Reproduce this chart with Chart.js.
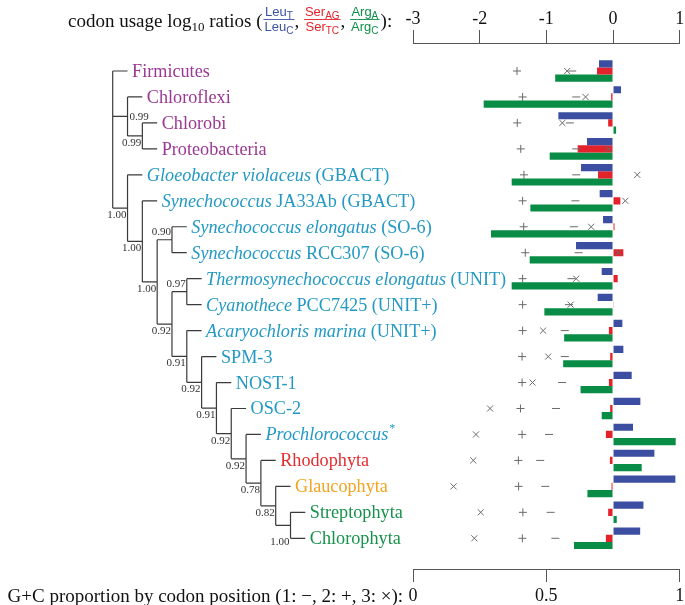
<!DOCTYPE html>
<html>
<head>
<meta charset="utf-8">
<title>codon usage and G+C</title>
<script src="https://cdn.jsdelivr.net/npm/chart.js@4.4.0/dist/chart.umd.min.js"></script>
<style>
html,body{margin:0;padding:0;background:#fff;}
#box{position:relative;width:685px;height:605px;}
</style>
</head>
<body>
<div id="box"><canvas id="chart"></canvas></div>
<script>
// tip labels: [text, style] style 0=roman 1=italic 2=superscript
var taxa=[
  [['Firmicutes',0]],
  [['Chloroflexi',0]],
  [['Chlorobi',0]],
  [['Proteobacteria',0]],
  [['Gloeobacter violaceus',1],[' (GBACT)',0]],
  [['Synechococcus',1],[' JA33Ab (GBACT)',0]],
  [['Synechococcus elongatus',1],[' (SO-6)',0]],
  [['Synechococcus',1],[' RCC307 (SO-6)',0]],
  [['Thermosynechococcus elongatus',1],[' (UNIT)',0]],
  [['Cyanothece',1],[' PCC7425 (UNIT+)',0]],
  [['Acaryochloris marina',1],[' (UNIT+)',0]],
  [['SPM-3',0]],
  [['NOST-1',0]],
  [['OSC-2',0]],
  [['Prochlorococcus',1],['*',2]],
  [['Rhodophyta',0]],
  [['Glaucophyta',0]],
  [['Streptophyta',0]],
  [['Chlorophyta',0]]
];
var taxaGroup=['P','P','P','P','C','C','C','C','C','C','C','C','C','C','C','R','G','V','V'];
var groupColor={P:'#9b3893',C:'#2399c4',R:'#e22d30',G:'#f2a420',V:'#17924b'};

// log10 codon usage ratios
var leuTC=[-0.21,0.12,-0.82,-0.39,-0.48,-0.20,-0.15,-0.555,-0.17,-0.23,0.14,0.155,0.28,0.41,0.30,0.62,0.935,0.456,0.407];
var serAGTC=[-0.24,-0.028,-0.073,-0.53,-0.225,0.11,0.022,0.155,0.07,0.005,-0.062,-0.043,-0.062,-0.043,-0.107,-0.047,-0.022,-0.073,-0.107];
var argAC=[-0.867,-1.94,0.046,-0.95,-1.52,-1.24,-1.83,-1.25,-1.52,-1.03,-0.733,-0.748,-0.487,-0.17,0.94,0.43,-0.384,0.056,-0.585];

// G+C proportion by codon position
var gc1=[0.597,0.612,0.588,0.612,0.612,0.609,0.603,0.621,0.594,0.585,0.569,0.569,0.559,0.536,0.510,0.477,0.496,0.516,0.534];
var gc2=[0.390,0.411,0.391,0.404,0.416,0.411,0.415,0.421,0.411,0.411,0.411,0.409,0.409,0.403,0.409,0.395,0.396,0.412,0.410];
var gc3=[0.578,0.647,0.560,0.733,0.841,0.796,0.668,0.770,0.612,0.591,0.488,0.507,0.448,0.289,0.236,0.226,0.152,0.254,0.230];

var logTicks=[-3,-2,-1,0,1];
var gcTicks=[0,0.5,1];

// tree: kids are tip indexes or node names
var nodeNames=['root','A','C','B','D','E','F','G','H','I','J','K','L','M','N','O','P'];
var nodeKids=[[0,'A','B'],[1,'C'],[2,3],[4,'D'],[5,'E'],['F','G'],[6,7],['H','I'],[8,9],[10,'J'],[11,'K'],[12,'L'],[13,'M'],[14,'N'],[15,'O'],[16,'P'],[17,18]];
var nodeSupport=['','0.99','0.99','1.00','1.00','1.00','0.90','0.92','0.97','0.91','0.92','0.91','0.92','0.92','0.78','0.82','1.00'];
var supportSpot=['','r','b','b','b','b','a','b','a','b','b','b','b','b','b','b','f'];

var SERIF='"Liberation Serif", "Times New Roman", serif';
var SANS='"Liberation Sans", Arial, sans-serif';

function layoutTree(){
  var node={},tipLevel=[],segs=[];
  nodeNames.forEach(function(n,i){node[n]={kids:nodeKids[i],sup:nodeSupport[i],spot:supportSpot[i]};});
  function walk(name,level){
    var nd=node[name],rows=[];
    nd.kids.forEach(function(k){
      if(typeof k==='number'){tipLevel[k]=level+1;rows.push(k);}
      else rows.push(walk(k,level+1));
    });
    nd.level=level;nd.rows=rows;
    nd.row=(rows[0]+rows[rows.length-1])/2;
    return nd.row;
  }
  walk('root',0);
  nodeNames.forEach(function(n){
    var nd=node[n];
    segs.push({x:nd.level,y:nd.rows[0]},{x:nd.level,y:nd.rows[nd.rows.length-1]},{x:null,y:null});
    nd.rows.forEach(function(r){segs.push({x:nd.level,y:r},{x:nd.level+1,y:r},{x:null,y:null});});
  });
  return {node:node,tipLevel:tipLevel,segs:segs};
}
var tree=layoutTree();

function rowsOf(vals){return vals.map(function(v,i){return {x:v,y:i};});}
function tickList(vals){return function(s){s.ticks=vals.map(function(v){return {value:v};});};}

function drawPieces(ctx,pieces,x,base,size){
  size=size||18.2;
  pieces.forEach(function(p){
    if(p[1]===2){
      ctx.font='12px '+SERIF;
      ctx.fillText(p[0],x+1,base-8);
      x+=ctx.measureText(p[0]).width+1;
    }else{
      ctx.font=(p[1]?'italic ':'')+size+'px '+SERIF;
      ctx.fillText(p[0],x,base);
      x+=ctx.measureText(p[0]).width;
    }
  });
  return x;
}
function drawFrac(ctx,x,num,nsub,den,dsub,col,base){
  function w(t,s){ctx.font='13px '+SANS;var a=ctx.measureText(t).width;ctx.font='10px '+SANS;return a+ctx.measureText(s).width;}
  var wn=w(num,nsub),wd=w(den,dsub),W=Math.max(wn,wd)+2;
  function put(t,s,xx,yy){
    ctx.font='13px '+SANS;ctx.fillText(t,xx,yy);
    var a=ctx.measureText(t).width;
    ctx.font='10px '+SANS;ctx.fillText(s,xx+a,yy+2.5);
  }
  ctx.fillStyle=col;
  put(num,nsub,x+(W-wn)/2,base-11);
  put(den,dsub,x+(W-wd)/2,base+4);
  ctx.fillRect(x,base-8,W,0.9);
  return x+W;
}

var textPlugin={
  id:'textPlugin',
  afterDraw:function(chart){
    var ctx=chart.ctx,xt=chart.scales.xt,ys=chart.scales.y,xb=chart.scales.x2;
    ctx.save();
    ctx.textAlign='left';ctx.textBaseline='alphabetic';
    // tip labels
    taxa.forEach(function(pcs,i){
      ctx.fillStyle=groupColor[taxaGroup[i]];
      drawPieces(ctx,pcs,xt.getPixelForValue(tree.tipLevel[i])+4.5,ys.getPixelForValue(i)+6);
    });
    // support values
    ctx.font='11px '+SERIF;ctx.fillStyle='#333';
    nodeNames.forEach(function(n){
      var nd=tree.node[n];if(!nd.sup) return;
      var px=xt.getPixelForValue(nd.level),py=ys.getPixelForValue(nd.row);
      if(nd.spot==='r'){ctx.textAlign='left';ctx.fillText(nd.sup,px+2,py+3.6);}
      else if(nd.spot==='a'){ctx.textAlign='right';ctx.fillText(nd.sup,px-1,py-4.4);}
      else if(nd.spot==='f'){ctx.textAlign='right';ctx.fillText(nd.sup,px-1,ys.getPixelForValue(nd.rows[nd.rows.length-1])+7);}
      else {ctx.textAlign='right';ctx.fillText(nd.sup,px-1,py+10);}
    });
    // axis titles
    ctx.textAlign='left';
    var base=27,x=68;
    ctx.fillStyle='#111';
    x=drawPieces(ctx,[['codon usage log',0]],x,base,19);
    ctx.font='13px '+SERIF;ctx.fillText('10',x,base+4);x+=ctx.measureText('10').width;
    x=drawPieces(ctx,[[' ratios (',0]],x,base,19);
    x=drawFrac(ctx,x+1,'Leu','T','Leu','C','#3b53a4',base);
    ctx.fillStyle='#111';x=drawPieces(ctx,[[', ',0]],x,base,19);
    x=drawFrac(ctx,x,'Ser','AG','Ser','TC','#e4232b',base);
    ctx.fillStyle='#111';x=drawPieces(ctx,[[', ',0]],x,base,19);
    x=drawFrac(ctx,x,'Arg','A','Arg','C','#0c9048',base);
    ctx.fillStyle='#111';drawPieces(ctx,[['):',0]],x+1,base,19);
    ctx.textAlign='right';ctx.font='19px '+SERIF;
    ctx.fillText('G+C proportion by codon position (1: \u2212, 2: +, 3: \u00d7):',xb.left-10,602);
    ctx.restore();
  }
};

var marker={type:'scatter',xAxisID:'x2',yAxisID:'y',indexAxis:'x',pointRadius:4,borderColor:'#6a6a6a',borderWidth:1,order:1};
function withMarker(o){var r={};for(var k in marker) r[k]=marker[k];for(var k2 in o) r[k2]=o[k2];return r;}

new Chart(document.getElementById('chart'),{
  type:'bar',
  data:{datasets:[
    {label:'Leu T/C',data:rowsOf(leuTC),backgroundColor:'#3b4ea1',xAxisID:'x',yAxisID:'y',order:2},
    {label:'Ser AG/TC',data:rowsOf(serAGTC),backgroundColor:'#e4222b',xAxisID:'x',yAxisID:'y',order:2},
    {label:'Arg A/C',data:rowsOf(argAC),backgroundColor:'#098c45',xAxisID:'x',yAxisID:'y',order:2},
    withMarker({label:'GC1',data:rowsOf(gc1),pointStyle:'line'}),
    withMarker({label:'GC2',data:rowsOf(gc2),pointStyle:'cross'}),
    withMarker({label:'GC3',data:rowsOf(gc3),pointStyle:'crossRot',pointRadius:4.3}),
    {type:'line',label:'tree',data:tree.segs,xAxisID:'xt',yAxisID:'y',indexAxis:'x',borderColor:'#3a3a3a',borderWidth:1.2,pointRadius:0,spanGaps:false,clip:false,order:0}
  ]},
  options:{
    indexAxis:'y',responsive:true,maintainAspectRatio:false,animation:false,
    layout:{padding:{left:413,right:2,top:0,bottom:0}},
    datasets:{bar:{categoryPercentage:0.83,barPercentage:1,borderWidth:0}},
    plugins:{legend:{display:false},tooltip:{enabled:false}},
    scales:{
      x:{type:'linear',position:'top',min:logTicks[0],max:logTicks[logTicks.length-1],
        afterBuildTicks:tickList(logTicks),
        afterFit:function(s){s.height=43;s.paddingLeft=0;s.paddingRight=0;},
        ticks:{color:'#111',font:{family:SERIF,size:18},padding:0,maxRotation:0,autoSkip:false,callback:function(v){return String(v);}},
        grid:{drawOnChartArea:false,tickLength:13,color:'#555',lineWidth:1},
        border:{color:'#555',width:1}},
      x2:{type:'linear',position:'bottom',min:gcTicks[0],max:gcTicks[gcTicks.length-1],
        afterBuildTicks:tickList(gcTicks),
        afterFit:function(s){s.height=36;s.paddingLeft=0;s.paddingRight=0;},
        ticks:{color:'#111',font:{family:SERIF,size:18},padding:3,maxRotation:0,autoSkip:false,callback:function(v){return String(v);}},
        grid:{drawOnChartArea:false,tickLength:13,color:'#555',lineWidth:1},
        border:{color:'#555',width:1}},
      xt:{type:'linear',display:false,min:20.267,max:38.267},
      y:{type:'linear',display:false,reverse:true,offset:false,min:-1.0786,max:19.183,
        afterBuildTicks:tickList(taxa.map(function(t,i){return i;}))}
    }
  },
  plugins:[textPlugin]
});
</script>
</body>
</html>
